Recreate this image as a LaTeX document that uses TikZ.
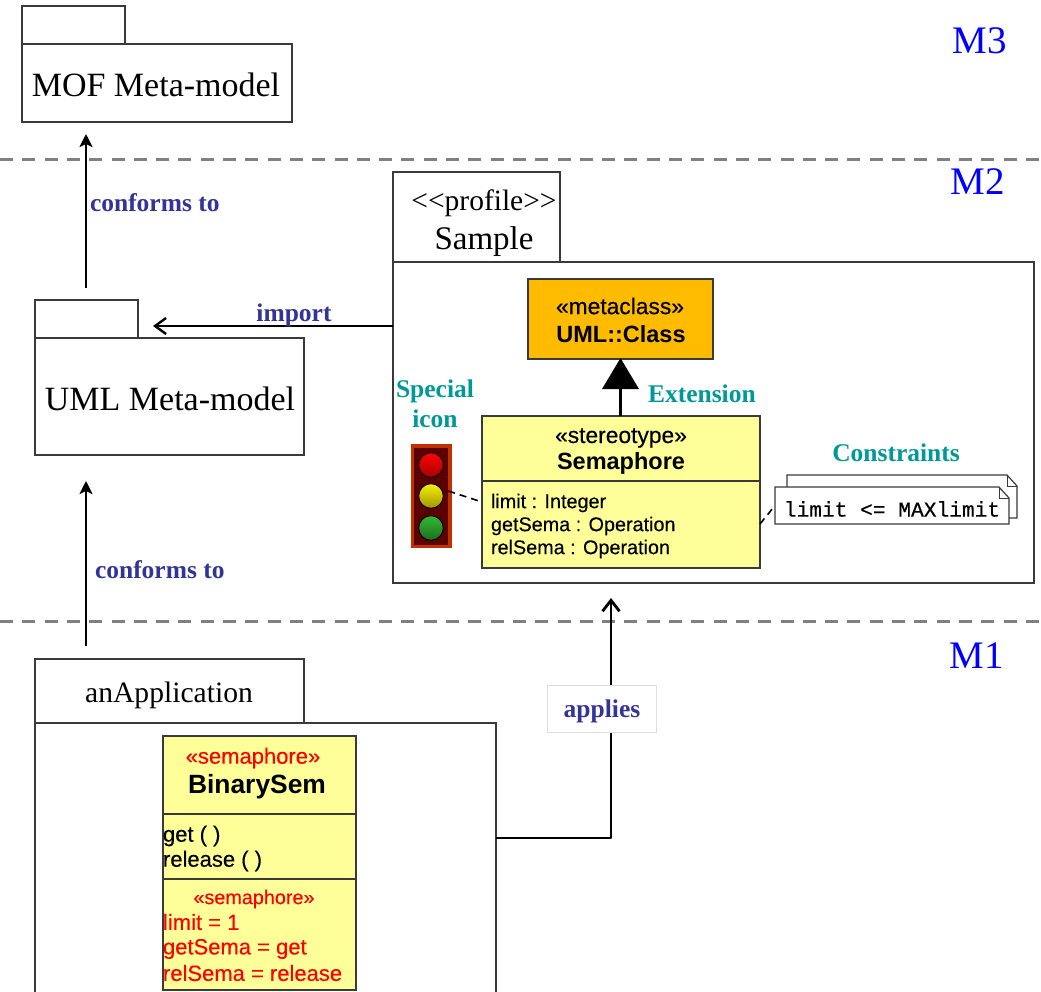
\documentclass[tikz,border=0pt]{standalone}
\usepackage{fontspec}
\setmainfont{Liberation Serif}
\setsansfont{Liberation Sans}
\setmonofont[FakeBold=0.35]{Liberation Mono}
\newfontfamily\umlf[FakeBold=0.35]{Liberation Sans}
\usetikzlibrary{arrows.meta}
\definecolor{lblue}{HTML}{333399}
\definecolor{lteal}{HTML}{009999}
\definecolor{uyellow}{HTML}{FFFF99}
\definecolor{uorange}{HTML}{FFBB00}
\definecolor{edge}{HTML}{3A3A3A}
\newcommand{\fsz}[1]{\fontsize{#1}{#1}\selectfont}
\tikzset{
 x=1pt,y=-1pt,
 every node/.style={inner sep=0pt,outer sep=0pt},
 box/.style={draw=edge,line width=1.3pt,fill=white,anchor=north west,align=center},
 classbox/.style={draw=edge,line width=1.1pt,fill=uyellow,anchor=north west},
 level/.style={draw=gray,line width=3pt,dash pattern=on 13pt off 9.3pt},
 mlabel/.style={text=blue,font=\fsz{39}},
 rel/.style={text=lblue,font=\bfseries\fsz{25.5}},
 anno/.style={text=lteal,font=\bfseries\fsz{25.5},align=center},
 pkg/.style={font=\fsz{34}},
 conn/.style={draw=black,line width=2.4pt},
 sdash/.style={draw=black,line width=1.6pt,dash pattern=on 7pt off 5pt},
 uml/.style={font=\umlf\fsz{22.8},text=black},
 umlb/.style={font=\sffamily\bfseries\fsz{23.5},text=black},
 umla/.style={font=\umlf\fsz{19.8},text=black,anchor=west},
 umlc/.style={font=\umlf\fsz{22},text=black,anchor=west},
 redtext/.style={text=red},
 lamp/.style={circle,draw=black,line width=.8pt,minimum size=24.5pt,shading angle=135},
}
\begin{document}
\begin{tikzpicture}
\useasboundingbox (0,0) rectangle (1041,991);
\fill[white] (0,0) rectangle (1041,991);
% level separators
\coordinate (l2a) at (0,159); \coordinate (l2b) at (1041,159);
\coordinate (l1a) at (0,621); \coordinate (l1b) at (1041,621);
\draw[level] (l2a) -- (l2b);
\draw[level] (l1a) -- (l1b);
\node[mlabel] (m3) at (979.5,41) {M3};
\node[mlabel] (m2) at (977.5,182) {M2};
\node[mlabel] (m1) at (977,656) {M1};
% MOF package
\node[box,minimum width=103pt,minimum height=38pt] (moftab) at (22,6) {};
\node[box,minimum width=270pt,minimum height=78pt] (mof) at (22,44) {};
\node[pkg] (mofname) at (156,84.5) {MOF Meta-model};
% UML package
\node[box,minimum width=103pt,minimum height=38pt] (umltab) at (35,300) {};
\node[box,minimum width=269pt,minimum height=117pt] (umlp) at (35,338) {};
\node[pkg] (umlname) at (170,398.5) {UML Meta-model};
% Sample profile
\node[box,minimum width=167pt,minimum height=90pt] (samtab) at (393,172) {};
\node[font=\fsz{29.5}] (prof) at (484,203) {<{}<profile>{}>};
\node[font=\fsz{33}] (samname) at (484,242) {Sample};
\node[box,minimum width=641pt,minimum height=321pt] (sample) at (393,262) {};
% metaclass
\node[classbox,fill=uorange,minimum width=185pt,minimum height=80pt] (meta) at (528,279) {};
\node[uml] (metas) at (620,306) {«metaclass»};
\node[umlb] (metan) at (621,334) {UML::Class};
% stereotype
\node[classbox,minimum width=278pt,minimum height=152pt] (sema) at (482,416) {};
\coordinate (semdl) at (482,481); \coordinate (semdr) at (760,481);
\draw[edge,line width=1.1pt] (semdl) -- (semdr);
\node[uml] (semas) at (621,438) {«stereotype»};
\node[umlb] (seman) at (621,463) {Semaphore};
\node[umla] (a1) at (491,503) {limit : Integer};
\node[umla] (a2) at (491,526) {getSema : Operation};
\node[umla] (a3) at (491,549) {relSema : Operation};
% extension
\draw[line width=3.6pt,-{Triangle[length=31pt,width=36pt]},shorten >=-1pt] (sema.north -| meta.south) -- (meta.south);
\node[anno,anchor=west] (ext) at (648,394) {Extension};
% icon
\node[anno] (spec) at (435,404) {Special\\[4.5pt]icon};
\node[fill={rgb,255:red,192;green,48;blue,0},anchor=north west,minimum width=41pt,minimum height=104pt] (tl) at (411,444) {};
\node[fill={rgb,255:red,90;green,0;blue,0},anchor=north west,minimum width=34pt,minimum height=97pt] (tlin) at (414,448) {};
\node[lamp,top color=red,bottom color=red!65!black] (lr) at (431,465) {};
\node[lamp,top color={rgb,255:red,245;green,240;blue,0},bottom color={rgb,255:red,160;green,150;blue,0}] (ly) at (431,496) {};
\node[lamp,top color={rgb,255:red,50;green,185;blue,50},bottom color={rgb,255:red,30;green,110;blue,30}] (lg) at (431,528) {};
\coordinate (semw) at (482,502);
\draw[sdash] (ly.east) ++(5,-5) coordinate (icoe) (icoe) -- (semw);
% constraints
\node[anno] (cons) at (896,453) {Constraints};
\coordinate (n1) at (787,487);
\draw[draw=edge,line width=1.2pt,fill=white] (n1) -- (787,475) -- (1007,475) -- (1017,486) -- (1017,518) -- (1009,518);
\draw[draw=edge,line width=.8pt] (1007,475) -- (1007,486) -- (1017,486);
\node[fill=white,minimum width=234pt,minimum height=37pt,anchor=north west] (note) at (775,487) {};
\node[font=\ttfamily\fsz{21.2}] (notetext) at (892,509) {limit <= MAXlimit};
\draw[draw=edge,line width=1.2pt] (775,487) -- (999,487) -- (1009,498) -- (1009,524) -- (775,524) -- cycle;
\draw[draw=edge,line width=.8pt] (999,487) -- (999,498) -- (1009,498);
\coordinate (seme) at (760,524);
\draw[sdash] (seme) -- (note.west);
% anApplication
\node[box,minimum width=269pt,minimum height=64pt] (apptab) at (35,659) {};
\node[font=\fsz{29.6}] (appname) at (169,695) {anApplication};
\node[box,minimum width=461pt,minimum height=290pt] (app) at (35,723) {};
\node[classbox,minimum width=193pt,minimum height=254pt] (bin) at (163,736) {};
\coordinate (bd1l) at (163,814); \coordinate (bd1r) at (356,814);
\coordinate (bd2l) at (163,879); \coordinate (bd2r) at (356,879);
\draw[edge,line width=1.1pt] (bd1l) -- (bd1r);
\draw[edge,line width=1.1pt] (bd2l) -- (bd2r);
\node[uml,redtext,font=\umlf\fsz{22}] (bs) at (253,758) {«semaphore»};
\node[umlb,font=\sffamily\bfseries\fsz{26.4}] (bn) at (257,787) {BinarySem};
\node[umlc] (g1) at (163,836) {get ( )};
\node[umlc] (g2) at (163,861) {release ( )};
\node[uml,redtext,font=\umlf\fsz{19.8}] (s2) at (254,899) {«semaphore»};
\node[umlc,redtext] (r1) at (163,922) {limit = 1};
\node[umlc,redtext] (r2) at (163,949) {getSema = get};
\node[umlc,redtext] (r3) at (163,973) {relSema = release};
% connectors
\coordinate (c1s) at (86,288); \coordinate (c1e) at (86,134);
\draw[conn,-{Stealth[length=13pt,width=13pt,inset=3pt]}] (c1s) -- (c1e);
\node[rel,anchor=west] (c1l) at (90,203) {conforms to};
\coordinate (c2s) at (86,646); \coordinate (c2e) at (86,481);
\draw[conn,-{Stealth[length=13pt,width=13pt,inset=3pt]}] (c2s) -- (c2e);
\node[rel,anchor=west] (c2l) at (95,570) {conforms to};
\coordinate (impe) at (153,326);
\draw[conn,-{Straight Barb[length=11pt,width=16pt]}] (sample.west |- impe) -- (impe);
\node[rel] (impl) at (294,315) {import};
\coordinate (apb) at (611,838); \coordinate (ape) at (611,598);
\draw[line width=2.8pt,line join=round,-{Straight Barb[length=11pt,width=17pt]}] (app.east |- apb) -- (apb) -- (ape);
\node[draw={rgb,255:red,222;green,222;blue,222},line width=.8pt,fill=white,minimum width=109pt,minimum height=47pt] (apl) at (601.5,708.5) {};
\node[rel] (appl) at (602,711) {applies};
\end{tikzpicture}
\end{document}
